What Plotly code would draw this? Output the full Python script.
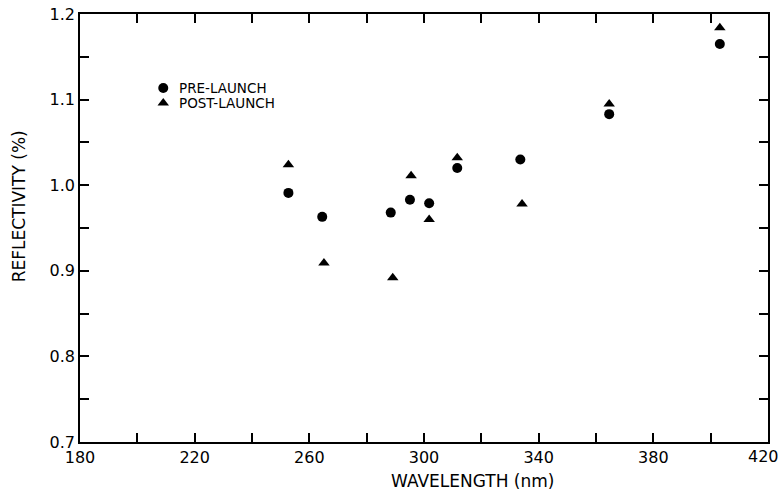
import plotly.graph_objects as go

# Wavelength (nm) of each measurement channel and the measured reflectivity
pre_wavelength = [252.7, 264.5, 288.4, 295.1, 301.8, 311.6, 333.6, 364.6, 403.2]
pre_reflectivity = [0.991, 0.963, 0.968, 0.983, 0.979, 1.020, 1.030, 1.083, 1.165]

post_wavelength = [252.7, 265.1, 289.1, 295.5, 301.8, 311.6, 334.2, 364.6, 403.2]
post_reflectivity = [1.024, 0.909, 0.892, 1.011, 0.960, 1.032, 0.978, 1.095, 1.184]

series_names = ["PRE-LAUNCH", "POST-LAUNCH"]
series_symbols = ["circle", "triangle-up"]

# Wavelength tick labels; the last one sits flush against the right edge
x_tick_values = [180, 220, 260, 300, 340, 380, 420]
x_tick_labels = ["180", "220", "260", "300", "340", "380", "420"]

FONT = "DejaVu Sans, Verdana, sans-serif"

fig = go.Figure()
for name, sym, xs, ys in zip(series_names, series_symbols,
                             [pre_wavelength, post_wavelength],
                             [pre_reflectivity, post_reflectivity]):
    fig.add_trace(go.Scatter(
        x=xs, y=ys, mode="markers", name=name, showlegend=False,
        marker=dict(symbol=sym, size=10, color="black"),
    ))

# Hand-placed key in the upper left, drawn on an overlay axis spanning [0, 1]
key_x = 0.121
key_y = [0.827, 0.792]
for name, sym, ky in zip(series_names, series_symbols, key_y):
    fig.add_trace(go.Scatter(
        x=[key_x], y=[ky], mode="markers", xaxis="x2", yaxis="y2",
        showlegend=False, hoverinfo="skip",
        marker=dict(symbol=sym, size=10, color="black"),
    ))
    fig.add_annotation(
        x=key_x + 0.02, y=ky, xref="x2", yref="y2", text=name, showarrow=False,
        xanchor="left", yanchor="middle",
        font=dict(family=FONT, size=13.5, color="black"),
    )

axis_common = dict(
    showgrid=False, zeroline=False, showline=True, linecolor="black", linewidth=1.6,
    mirror="ticks", ticks="inside", ticklen=9, tickwidth=1.6, tickcolor="black",
    tickfont=dict(family=FONT, size=16, color="black"),
    automargin=False,
)

fig.update_xaxes(
    range=[180, 420],
    tickvals=x_tick_values[:-1], ticktext=x_tick_labels[:-1],
    minor=dict(tick0=180, dtick=20, ticks="inside", ticklen=9, tickwidth=1.6, tickcolor="black"),
    **axis_common,
)
fig.update_yaxes(
    range=[0.7, 1.2], tick0=0.7, dtick=0.1, tickformat=".1f",
    minor=dict(dtick=0.05, ticks="inside", ticklen=9, tickwidth=1.6, tickcolor="black"),
    **axis_common,
)

# Right-most wavelength label, right-aligned so it stays inside the page
fig.add_annotation(
    x=x_tick_values[-1], y=0, xref="x", yref="paper", text=x_tick_labels[-1],
    showarrow=False, xanchor="right", yanchor="top", xshift=13, yshift=-3,
    font=dict(family=FONT, size=16, color="black"),
)

fig.update_layout(
    width=781, height=490,
    margin=dict(l=80, r=13, t=14, b=48, autoexpand=False),
    paper_bgcolor="white", plot_bgcolor="white",
    showlegend=False,
    xaxis2=dict(overlaying="x", range=[0, 1], visible=False, anchor="y2"),
    yaxis2=dict(overlaying="y", range=[0, 1], visible=False, anchor="x2"),
)

# Axis titles
fig.add_annotation(
    x=0.571, y=-0.091, xref="paper", yref="paper", text="WAVELENGTH (nm)",
    showarrow=False, xanchor="center", yanchor="middle",
    font=dict(family=FONT, size=17, color="black"),
)
fig.add_annotation(
    x=-0.089, y=0.55, xref="paper", yref="paper", text="REFLECTIVITY (%)",
    showarrow=False, textangle=-90, xanchor="center", yanchor="middle",
    font=dict(family=FONT, size=17, color="black"),
)

fig.write_html("out.html")
